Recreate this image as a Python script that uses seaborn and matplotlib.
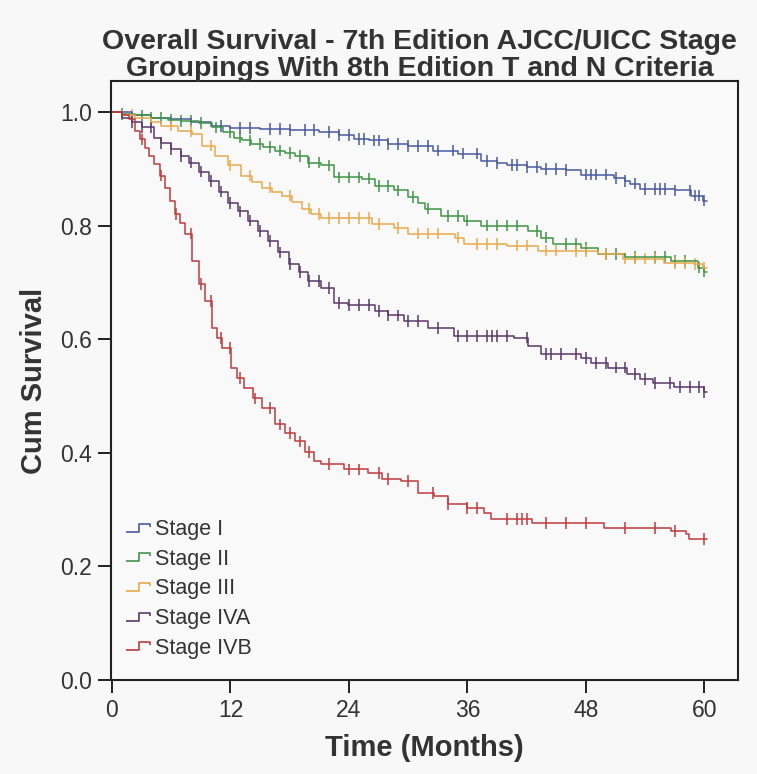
import numpy as np
import pandas as pd
import matplotlib
matplotlib.use("Agg")
import matplotlib.pyplot as plt
from matplotlib.path import Path
from matplotlib.lines import Line2D
import seaborn as sns

# --- data (step drop times in months, survival after the drop) ---
stages = ["Stage I", "Stage II", "Stage III", "Stage IVA", "Stage IVB"]

t_stage1 = [0, 2, 4, 6, 8, 10, 12, 15, 18, 21, 23, 24.5, 26, 28, 30, 32.5, 35, 37.4, 39, 40,
            42, 43.4, 46, 47.5, 50, 50.8, 52, 52.5, 53.5, 55, 57, 58.6, 59.9, 60.3]
s_stage1 = [1.0, 0.995, 0.99, 0.987, 0.982, 0.975, 0.972, 0.97, 0.968, 0.965, 0.96, 0.953, 0.95,
            0.944, 0.94, 0.932, 0.927, 0.914, 0.91, 0.907, 0.903, 0.90, 0.898, 0.89, 0.89, 0.884,
            0.879, 0.874, 0.865, 0.864, 0.862, 0.853, 0.844, 0.844]

t_stage2 = [0, 1, 2.3, 4, 5.7, 7, 8.8, 10.1, 11.2, 12.4, 13.2, 14.1, 15.3, 16.5, 17.5, 18.5, 19.9,
            21.2, 22.5, 25.3, 26.6, 28.6, 30, 31, 31.7, 33.3, 35.7, 37.4, 40.7, 42.1, 43.4, 44.7,
            47.5, 49.2, 52, 56.6, 59.3, 60, 60.3]
s_stage2 = [1.0, 0.997, 0.994, 0.99, 0.986, 0.984, 0.981, 0.973, 0.964, 0.955, 0.95, 0.944, 0.938,
            0.932, 0.928, 0.923, 0.911, 0.906, 0.885, 0.883, 0.87, 0.862, 0.85, 0.84, 0.83, 0.817,
            0.809, 0.80, 0.80, 0.791, 0.779, 0.768, 0.761, 0.75, 0.745, 0.738, 0.726, 0.719, 0.719]

t_stage3 = [0, 1, 2.3, 4, 5, 6.7, 8.1, 9.1, 10.4, 11.8, 13.1, 14.2, 15.2, 16.2, 17.2, 18.2, 19.2,
            20.2, 21.2, 26.3, 28.6, 30, 34.7, 35.7, 40, 43.1, 46, 49.2, 51.8, 55.9, 58.9, 59.9, 60.3]
s_stage3 = [1.0, 0.995, 0.99, 0.983, 0.976, 0.967, 0.962, 0.941, 0.923, 0.906, 0.888, 0.877, 0.867,
            0.86, 0.853, 0.842, 0.83, 0.82, 0.814, 0.803, 0.796, 0.786, 0.779, 0.768, 0.765, 0.756,
            0.755, 0.75, 0.742, 0.734, 0.732, 0.726, 0.726]

t_stage4a = [0, 1, 2, 3, 4.3, 5, 6, 7, 7.8, 8.8, 9.8, 10.8, 11.8, 12.8, 13.8, 14.8, 15.8, 16.8,
             17.9, 18.9, 19.9, 21.2, 22.5, 23.9, 26.6, 28, 29.6, 32, 34.6, 40.7, 42.1, 43.4, 47.5,
             48.5, 50.2, 52.2, 53.5, 54.8, 56.9, 60, 60.3]
s_stage4a = [1.0, 0.99, 0.982, 0.973, 0.955, 0.946, 0.935, 0.922, 0.911, 0.895, 0.879, 0.86, 0.84,
             0.825, 0.809, 0.791, 0.773, 0.753, 0.733, 0.718, 0.703, 0.69, 0.664, 0.66, 0.65, 0.642,
             0.632, 0.62, 0.606, 0.603, 0.588, 0.574, 0.567, 0.558, 0.55, 0.539, 0.53, 0.523, 0.516,
             0.507, 0.507]

t_stage4b = [0, 1, 1.7, 2.3, 2.8, 3.3, 3.8, 4.3, 4.9, 5.4, 5.9, 6.4, 6.9, 7.4, 8.1, 8.8, 9.4, 10.1,
             10.6, 11.1, 12.1, 12.7, 13.4, 14.3, 15.2, 16.5, 17.5, 18.5, 19.5, 20.5, 21.2, 23.5, 25.9,
             27.3, 29.3, 31, 32.6, 34, 36, 37.7, 38.4, 42.5, 49.8, 56.6, 58.1, 58.4, 60.3]
s_stage4b = [1.0, 0.995, 0.988, 0.967, 0.952, 0.937, 0.923, 0.909, 0.888, 0.867, 0.844, 0.821, 0.804,
             0.786, 0.738, 0.697, 0.667, 0.62, 0.602, 0.585, 0.55, 0.532, 0.514, 0.496, 0.479, 0.45,
             0.435, 0.42, 0.402, 0.385, 0.38, 0.371, 0.364, 0.354, 0.35, 0.329, 0.324, 0.31, 0.303,
             0.294, 0.283, 0.277, 0.268, 0.262, 0.257, 0.248, 0.248]

# censored observation times
c_stage1 = [11, 13, 14, 16, 17, 18, 19.5, 20.5, 22, 23, 24, 25, 25.5, 26.5, 27, 28, 29, 30, 31, 32,
            33, 34.5, 35.5, 37, 38, 39, 40.5, 41, 42, 43, 44, 45, 46, 48, 48.5, 49, 50, 51, 52, 53,
            54, 55, 55.5, 56, 57, 58.5, 59, 59.5, 60]
c_stage2 = [1, 3, 4, 5, 6, 7, 8, 9, 10.5, 12, 13, 14, 15, 16, 17, 18, 19, 20, 21, 22, 23, 24, 25, 26,
            27, 28, 29, 30.5, 32, 34, 35, 36, 38, 39, 40, 41, 43, 44, 46, 47, 48, 50, 51, 53, 55, 56,
            57, 58, 59.5, 60]
c_stage3 = [2, 4, 6, 8, 10, 12, 14, 16, 18, 20, 21, 22, 23, 24, 25, 26, 27, 29, 31, 32, 33, 35, 37,
            38, 39, 41, 42, 44, 45, 47, 48, 50, 52, 53, 54, 55, 57, 58, 59, 60]
c_stage4a = [2, 3, 4, 5, 6, 7, 8, 9, 10, 11, 12, 13, 14, 15, 16, 17, 18, 19, 20, 21, 22, 23, 24, 25,
             26, 27, 28, 29, 30, 31, 33, 35, 36, 37, 38, 38.5, 39, 40, 42, 44, 44.5, 45.5, 47, 48,
             49, 50, 51, 52, 53, 54, 55, 56.5, 57.5, 58.5, 59.5, 60]
c_stage4b = [3, 5, 6.5, 8, 9, 10, 11, 12, 13, 14.5, 16, 17, 18, 19, 20, 22, 24, 25, 27, 28, 30, 32.5,
             34, 36, 37, 40, 41, 41.5, 42, 44, 46, 48, 52, 55, 57, 60]

colors = ["#4a5a9e", "#3f9447", "#e9a94c", "#5b3868", "#bf3a3c"]

times = [t_stage1, t_stage2, t_stage3, t_stage4a, t_stage4b]
survs = [s_stage1, s_stage2, s_stage3, s_stage4a, s_stage4b]
censors = [c_stage1, c_stage2, c_stage3, c_stage4a, c_stage4b]

curve_rows, censor_rows = [], []
for name, t, s, c in zip(stages, times, survs, censors):
    t = np.asarray(t, float)
    s = np.asarray(s, float)
    for ti, si in zip(t, s):
        curve_rows.append((name, ti, si))
    # survival level at each censor time (step lookup)
    idx = np.searchsorted(t, c, side="right") - 1
    for ci, k in zip(c, idx):
        censor_rows.append((name, ci, s[k]))

curves = pd.DataFrame(curve_rows, columns=["stage", "time", "surv"])
cens = pd.DataFrame(censor_rows, columns=["stage", "time", "surv"])

sns.set_style("ticks")
plt.rcParams["font.family"] = ["Liberation Sans", "DejaVu Sans"]

fig = plt.figure(figsize=(7.57, 7.74), dpi=100, facecolor="#f8f8f8")
ax = fig.add_axes([0.1466, 0.1214, 0.8283, 0.7739])
ax.set_facecolor("#f9f9f9")

palette = dict(zip(stages, colors))
sns.lineplot(data=curves, x="time", y="surv", hue="stage", palette=palette,
             drawstyle="steps-post", estimator=None, sort=False, linewidth=1.1,
             legend=False, ax=ax)
sns.scatterplot(data=cens, x="time", y="surv", hue="stage", palette=palette,
                marker="|", s=70, linewidth=1.1, legend=False, ax=ax)

ax.set_xlim(-0.1, 63.4)
ax.set_ylim(0, 1.0546)
ax.set_xticks([0, 12, 24, 36, 48, 60])
ax.set_yticks([0.0, 0.2, 0.4, 0.6, 0.8, 1.0])
ax.set_yticklabels(["0.0", "0.2", "0.4", "0.6", "0.8", "1.0"])
ax.tick_params(axis="both", labelsize=16.5, length=9.5, width=1.4, color="#222222",
               labelcolor="#333333", pad=4)
for sp in ax.spines.values():
    sp.set_visible(True)
    sp.set_linewidth(1.5)
    sp.set_color("#222222")

ax.set_xlabel("Time (Months)", fontsize=21, fontweight="bold", color="#333333", labelpad=9)
ax.set_ylabel("Cum Survival", fontsize=21, fontweight="bold", color="#333333", labelpad=9)

title_lines = ["Overall Survival - 7th Edition AJCC/UICC Stage",
               "Groupings With 8th Edition T and N Criteria"]
for line, yb in zip(title_lines, [1 - 49 / 774, 1 - 76 / 774]):
    fig.text(0.554, yb, line, ha="center", va="baseline", fontsize=20.5,
             fontweight="bold", color="#333333")

# step-shaped legend glyph like the SPSS output
step_glyph = Path([(-1.0, -0.35), (0.1, -0.35), (0.1, 0.35), (1.0, 0.35), (1.0, 0.1)])
handles = [Line2D([], [], linestyle="none", marker=step_glyph, markersize=17,
                  markerfacecolor="none", markeredgecolor=c, markeredgewidth=1.2)
           for c in colors]
ax.legend(handles, stages, loc="upper left", bbox_to_anchor=(0.005, 0.29), frameon=False,
          fontsize=15.5, handlelength=1.0, handletextpad=0.3, labelspacing=0.4,
          labelcolor="#333333", borderaxespad=0.2)

fig.savefig("out.png", dpi=100, facecolor=fig.get_facecolor())
